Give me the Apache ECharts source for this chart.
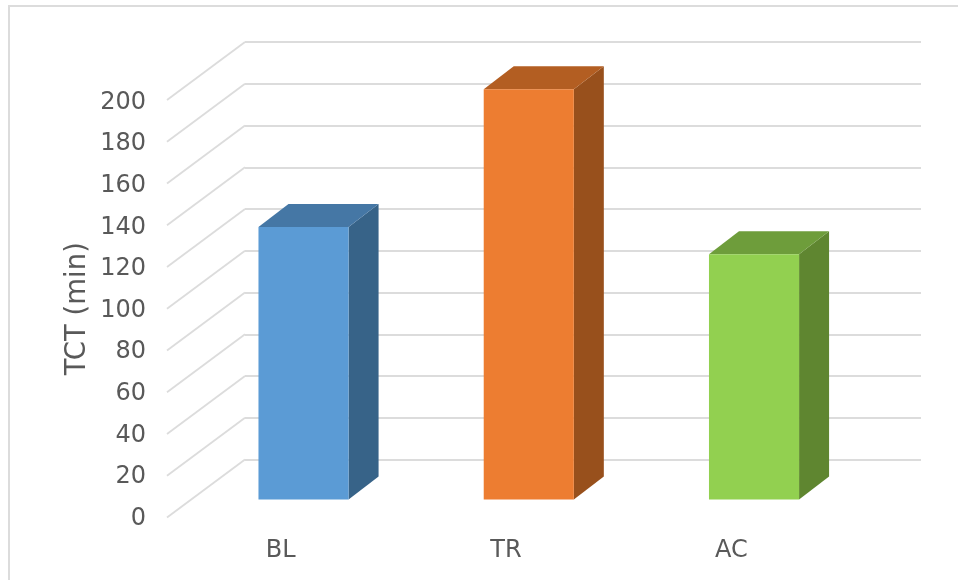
<!DOCTYPE html>
<html><head><meta charset="utf-8">
<style>html,body{margin:0;padding:0;background:#fff}#c{width:958px;height:580px}</style>
<script src="https://cdn.jsdelivr.net/npm/echarts@6/dist/echarts.min.js"></script>
</head><body><div id="c"></div>
<script>
var categories = ['BL', 'TR', 'AC'];
var tctValues = [130.5, 196.5, 117.5];
var axisTicks = [0, 20, 40, 60, 80, 100, 120, 140, 160, 180, 200];
var frontColors = ['#5B9BD5', '#ED7D31', '#92D050'];
var sideColors = ['#376388', '#98501C', '#5F8630'];
var topColors = ['#4577A5', '#B35E22', '#6E9D3B'];

var font = '"DejaVu Sans", Verdana, sans-serif';
var textColor = '#595959';
var gridColor = '#dcdcdc';
var wallDx = 78, wallDy = -58;
var barDx = 30, barDy = -23;

function hiddenX(i) {
  return { type: 'category', gridIndex: i, data: categories, show: false };
}
function renderWall(params, api) {
  var p = api.coord([categories[0], api.value(0)]);
  var x0 = params.coordSys.x;
  return {
    type: 'line',
    shape: { x1: x0, y1: p[1], x2: x0 + wallDx, y2: p[1] + wallDy },
    style: { stroke: gridColor, lineWidth: 1.8 }
  };
}
function renderBar(params, api) {
  var i = api.value(0);
  var top = api.coord([i, api.value(1)]);
  var base = api.coord([i, 0]);
  var w = api.size([1, 0])[0] * 0.4;
  var l = top[0] - w / 2, r = top[0] + w / 2;
  return {
    type: 'group',
    children: [
      { type: 'polygon', shape: { points: [[r, top[1]], [r + barDx, top[1] + barDy], [r + barDx, base[1] + barDy], [r, base[1]]] },
        style: { fill: sideColors[i] } },
      { type: 'polygon', shape: { points: [[l, top[1]], [l + barDx, top[1] + barDy], [r + barDx, top[1] + barDy], [r, top[1]]] },
        style: { fill: topColors[i] } },
      { type: 'rect', shape: { x: l, y: top[1], width: w, height: base[1] - top[1] },
        style: { fill: frontColors[i] } }
    ]
  };
}

var chart = echarts.init(document.getElementById('c'), null, { renderer: 'canvas' });
chart.setOption({
  animation: false,
  backgroundColor: '#ffffff',
  graphic: [{
    type: 'rect', z: 0, silent: true,
    shape: { x: 9, y: 6, width: 1000, height: 640 },
    style: { fill: 'none', stroke: '#dcdcdc', lineWidth: 2 }
  }],
  grid: [
    { left: 167, top: 100, width: 676, height: 417.5 },
    { left: 245, top: 42, width: 676, height: 417.5 },
    { left: 190.9, top: 82, width: 675.75, height: 417.5 },
    { left: 167, top: 102.5, width: 676, height: 416 }
  ],
  xAxis: [
    { type: 'category', gridIndex: 0, data: categories,
      axisLine: { show: false }, axisTick: { show: false },
      axisLabel: { color: textColor, fontFamily: font, fontSize: 24, margin: 21, padding: [0, 0, 0, 2] } },
    hiddenX(1),
    hiddenX(2),
    hiddenX(3)
  ],
  yAxis: [
    { type: 'value', gridIndex: 0, min: 0, max: 200, interval: 20,
      name: 'TCT (min)', nameLocation: 'middle', nameRotate: 90, nameGap: 75.5, nameMoveOverlap: false,
      nameTextStyle: { color: textColor, fontFamily: font, fontSize: 27.5 },
      axisLine: { show: false }, axisTick: { show: false }, splitLine: { show: false }, axisLabel: { show: false } },
    { type: 'value', gridIndex: 1, min: 0, max: 200, interval: 20,
      axisLine: { show: false }, axisTick: { show: false }, axisLabel: { show: false },
      splitLine: { show: true, lineStyle: { color: gridColor, width: 1.8 } } },
    { type: 'value', gridIndex: 2, min: 0, max: 200, interval: 20, show: false },
    { type: 'value', gridIndex: 3, min: 0, max: 200, interval: 20,
      axisLine: { show: false }, axisTick: { show: false }, splitLine: { show: false },
      axisLabel: { color: textColor, fontFamily: font, fontSize: 24, margin: 21 } }
  ],
  series: [
    { type: 'custom', xAxisIndex: 0, yAxisIndex: 0, z: 1, silent: true,
      renderItem: renderWall, clip: false,
      encode: { y: 0 }, data: axisTicks.map(function (t) { return [t]; }) },
    { type: 'custom', xAxisIndex: 2, yAxisIndex: 2, z: 5, silent: true,
      renderItem: renderBar, clip: false,
      encode: { x: 0, y: 1 },
      data: tctValues.map(function (v, i) { return [i, v]; }) }
  ]
});
</script></body></html>
